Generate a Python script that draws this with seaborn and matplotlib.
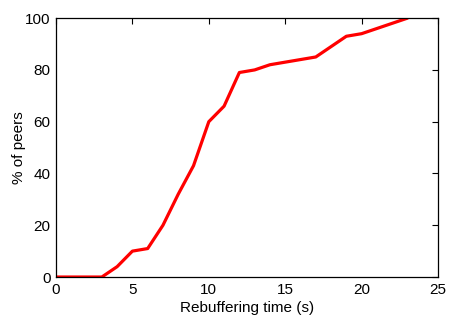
import numpy as np
import pandas as pd
import matplotlib
matplotlib.use("Agg")
import matplotlib.pyplot as plt
import seaborn as sns

# rebuffering time (s) and cumulative % of peers
rebuf_time = [0, 1, 2, 3, 4, 5, 6, 7, 8, 9, 10, 11, 12, 13, 14, 15, 16, 17, 18, 19, 20, 21, 22, 23]
pct_peers = [0, 0, 0, 0, 4, 10, 11, 20, 32, 43, 60, 66, 79, 80, 82, 83, 84, 85, 89, 93, 94, 96, 98, 100]
x_ticks = [0, 5, 10, 15, 20, 25]
y_ticks = [0, 20, 40, 60, 80, 100]

sns.set_style("white")
plt.rcParams['font.family'] = ['Liberation Sans', 'DejaVu Sans']
plt.rcParams['text.color'] = 'black'
plt.rcParams['axes.labelcolor'] = 'black'

df = pd.DataFrame({"t": rebuf_time, "p": pct_peers})

fig = plt.figure(figsize=(4.5, 3.24), dpi=100)
ax = fig.add_axes([0.1244, 0.145, 0.849, 0.799])
sns.lineplot(ax=ax, data=df, x="t", y="p", color="red", linewidth=2.3)

ax.set_xlim(0, 25)
ax.set_ylim(0, 100)
ax.set_xticks(x_ticks)
ax.set_yticks(y_ticks)
ax.tick_params(direction="in", top=True, right=True, length=4, width=0.8,
               labelsize=11, colors="black", pad=4)
for s in ax.spines.values():
    s.set_color("black")
    s.set_linewidth(0.9)

ax.set_xlabel("Rebuffering time (s)", fontsize=11, labelpad=3)
ax.set_ylabel("% of peers", fontsize=11, labelpad=-1)

fig.savefig("out.png", dpi=100)
